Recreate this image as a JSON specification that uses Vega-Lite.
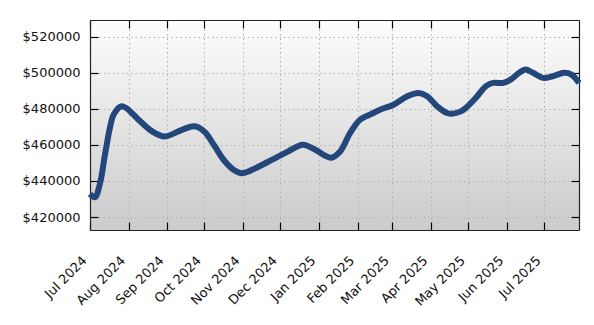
{
  "$schema": "https://vega.github.io/schema/vega-lite/v6.json",
  "width": 489,
  "height": 210,
  "autosize": {"type": "none"},
  "padding": {"left": 90, "top": 20, "right": 15, "bottom": 95},
  "background": "white",
  "config": {
    "view": {
      "stroke": null,
      "fill": {"gradient": "linear", "x1": 0, "y1": 0, "x2": 0, "y2": 1,
        "stops": [{"offset": 0, "color": "#fdfdfd"}, {"offset": 1, "color": "#cbcbcb"}]}
    },
    "axis": {
      "labelFont": "DejaVu Sans",
      "labelFontSize": 13,
      "labelColor": "#111111",
      "domainColor": "#222222",
      "domainWidth": 1.2,
      "tickColor": "#000000",
      "tickWidth": 1.2,
      "tickSize": -8,
      "gridColor": "#b0b0b0",
      "gridDash": [1.5, 3],
      "gridWidth": 1,
      "title": null,
      "labelOverlap": false,
      "labelFlush": false
    }
  },
  "data": {"values": [
    {"date": "2024-07-01T00:00:00", "price": 432800},
    {"date": "2024-07-05T00:00:00", "price": 431000},
    {"date": "2024-07-09T00:00:00", "price": 438500},
    {"date": "2024-07-13T00:00:00", "price": 454500},
    {"date": "2024-07-17T00:00:00", "price": 469400},
    {"date": "2024-07-20T00:00:00", "price": 476800},
    {"date": "2024-07-26T00:00:00", "price": 481400},
    {"date": "2024-07-30T00:00:00", "price": 480500},
    {"date": "2024-08-09T00:00:00", "price": 474000},
    {"date": "2024-08-20T00:00:00", "price": 467500},
    {"date": "2024-08-30T00:00:00", "price": 464700},
    {"date": "2024-09-13T00:00:00", "price": 468400},
    {"date": "2024-09-23T00:00:00", "price": 470300},
    {"date": "2024-10-01T00:00:00", "price": 467300},
    {"date": "2024-10-09T00:00:00", "price": 459500},
    {"date": "2024-10-17T00:00:00", "price": 451200},
    {"date": "2024-10-25T00:00:00", "price": 445900},
    {"date": "2024-10-31T00:00:00", "price": 444300},
    {"date": "2024-11-11T00:00:00", "price": 447100},
    {"date": "2024-11-24T00:00:00", "price": 451700},
    {"date": "2024-12-07T00:00:00", "price": 456300},
    {"date": "2024-12-19T00:00:00", "price": 460100},
    {"date": "2024-12-29T00:00:00", "price": 457300},
    {"date": "2025-01-06T00:00:00", "price": 454000},
    {"date": "2025-01-11T00:00:00", "price": 452900},
    {"date": "2025-01-18T00:00:00", "price": 456300},
    {"date": "2025-01-26T00:00:00", "price": 466600},
    {"date": "2025-02-03T00:00:00", "price": 474000},
    {"date": "2025-02-11T00:00:00", "price": 476800},
    {"date": "2025-02-19T00:00:00", "price": 479500},
    {"date": "2025-03-02T00:00:00", "price": 482300},
    {"date": "2025-03-13T00:00:00", "price": 487000},
    {"date": "2025-03-22T00:00:00", "price": 488800},
    {"date": "2025-03-29T00:00:00", "price": 487000},
    {"date": "2025-04-06T00:00:00", "price": 481400},
    {"date": "2025-04-14T00:00:00", "price": 477700},
    {"date": "2025-04-18T00:00:00", "price": 477300},
    {"date": "2025-04-25T00:00:00", "price": 478600},
    {"date": "2025-04-29T00:00:00", "price": 480500},
    {"date": "2025-05-07T00:00:00", "price": 486000},
    {"date": "2025-05-15T00:00:00", "price": 492500},
    {"date": "2025-05-21T00:00:00", "price": 494400},
    {"date": "2025-05-29T00:00:00", "price": 494400},
    {"date": "2025-06-04T00:00:00", "price": 496200},
    {"date": "2025-06-11T00:00:00", "price": 500000},
    {"date": "2025-06-16T00:00:00", "price": 501800},
    {"date": "2025-06-22T00:00:00", "price": 500000},
    {"date": "2025-06-30T00:00:00", "price": 497200},
    {"date": "2025-07-08T00:00:00", "price": 498100},
    {"date": "2025-07-17T00:00:00", "price": 500000},
    {"date": "2025-07-23T00:00:00", "price": 499000},
    {"date": "2025-07-29T00:00:00", "price": 494400}
  ]},
  "layer": [
    {
      "mark": {"type": "line", "color": "#24477b", "strokeWidth": 6, "interpolate": "catmull-rom"},
      "encoding": {
        "x": {"field": "date", "type": "temporal",
          "scale": {"domain": [{"year": 2024, "month": 7, "date": 1}, {"year": 2025, "month": 7, "date": 29}]},
          "axis": {"orient": "bottom", "format": "%b %Y", "tickCount": {"interval": "month", "step": 1},
            "labelAngle": -45, "labelAlign": "right", "labelBaseline": "alphabetic", "labelPadding": 39, "labelOffset": -3, "grid": true}},
        "y": {"field": "price", "type": "quantitative",
          "scale": {"domain": [412800, 529300], "nice": false, "zero": false},
          "axis": {"orient": "left", "values": [420000, 440000, 460000, 480000, 500000, 520000],
            "format": "$d", "labelPadding": 18, "labelBaseline": "middle", "grid": true}}
      }
    },
    {
      "mark": {"type": "line", "opacity": 0},
      "encoding": {
        "x": {"field": "date", "type": "temporal",
          "scale": {"domain": [{"year": 2024, "month": 7, "date": 1}, {"year": 2025, "month": 7, "date": 29}]},
          "axis": {"orient": "top", "labels": false, "grid": false, "tickCount": {"interval": "month", "step": 1}}},
        "y": {"field": "price", "type": "quantitative",
          "scale": {"domain": [412800, 529300], "nice": false, "zero": false},
          "axis": {"orient": "right", "labels": false, "grid": false, "values": [420000, 440000, 460000, 480000, 500000, 520000]}}
      }
    }
  ],
  "resolve": {"axis": {"x": "independent", "y": "independent"}}
}
